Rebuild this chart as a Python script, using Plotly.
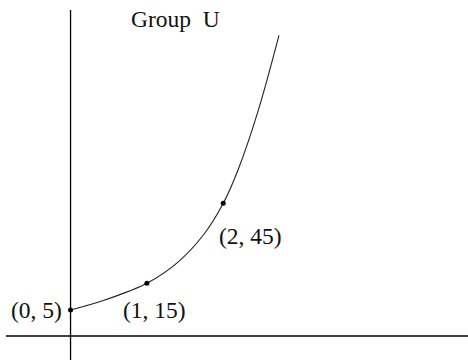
import plotly.graph_objects as go

# Sketch of an exponential growth curve for Group U
curve_x = [0, 0.4, 0.75, 1.0, 1.4, 1.75, 2.0, 2.2, 2.45, 2.73]
curve_y = [5, 8.3, 11.9, 15, 22.8, 33.5, 45, 58, 79, 108]

# Highlighted points and their labels
point_x = [0, 1, 2]
point_y = [5, 15, 45]
point_labels = ["(0, 5)", "(1, 15)", "(2, 45)"]
label_shift_x = [-34, 8, 27]
label_shift_y = [0, -27, -33]

title_text = "Group\u00a0\u00a0U"

serif = "Liberation Serif, Times New Roman, serif"

fig = go.Figure()

fig.add_trace(go.Scatter(
    x=curve_x, y=curve_y, mode="lines",
    line=dict(color="#222222", width=1.1, shape="spline", smoothing=1.0),
    hoverinfo="skip", showlegend=False,
))

fig.add_trace(go.Scatter(
    x=point_x, y=point_y, mode="markers",
    marker=dict(color="black", size=5),
    showlegend=False,
))

for px, py, txt, dx, dy in zip(point_x, point_y, point_labels, label_shift_x, label_shift_y):
    fig.add_annotation(
        x=px, y=py, text=txt, showarrow=False,
        xshift=dx, yshift=dy, xanchor="center", yanchor="middle",
        font=dict(family=serif, size=23.5, color="#111111"),
    )

fig.add_annotation(
    x=0.376, y=0.947, xref="paper", yref="paper", text=title_text,
    showarrow=False, xanchor="center", yanchor="middle",
    font=dict(family=serif, size=23.5, color="#111111"),
)

# Hand-drawn style axes
fig.add_shape(type="line", xref="x", yref="paper", x0=0, x1=0, y0=0, y1=0.972,
              line=dict(color="black", width=1.3))
fig.add_shape(type="line", xref="paper", yref="paper", x0=0.0128, x1=1, y0=0.0667, y1=0.0667,
              line=dict(color="black", width=1.5))

fig.update_layout(
    width=468, height=360,
    margin=dict(l=0, r=0, t=0, b=0),
    paper_bgcolor="white", plot_bgcolor="white",
    xaxis=dict(range=[-0.924, 5.206], visible=False, fixedrange=True),
    yaxis=dict(range=[-13.74, 121.25], visible=False, fixedrange=True),
)

fig.write_html("out.html")
